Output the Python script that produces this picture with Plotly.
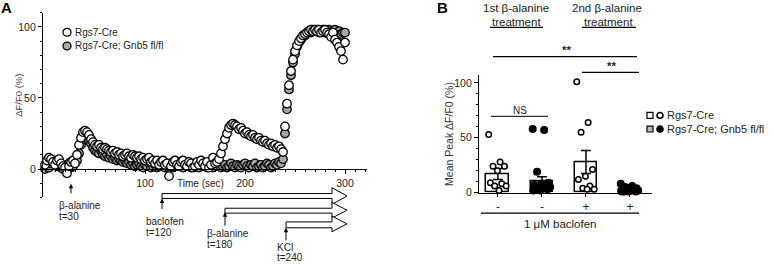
import plotly.graph_objects as go

# ---------------- data ----------------
time_sec = list(range(0, 302, 2))
rgs7_cre = [3, 6, 8, 7, 5, 3, 6, 7, 4, 2,
            1, -3, 2, 5, 6, 4, 10, 17, 22, 26,
            27, 26, 24, 21, 19, 17, 16, 17, 15, 14,
            15, 14, 13, 12, 13, 11, 12, 10, 11, 9,
            10, 11, 9, 8, 10, 9, 8, 9, 7, 8,
            6, 7, 8, 5, 6, 4, 6, 3, 5, 6,
            3, 4, -5, 2, 5, 6, 3, 2, 5, 6,
            3, 2, 5, 4, 1, 2, 5, 3, 6, 4,
            2, 5, 1, 3, 8, 4, 5, 7, 11, 16,
            21, 25, 29, 31, 32, 31, 30, 28, 29, 27,
            25, 26, 24, 23, 24, 22, 21, 22, 20, 19,
            20, 18, 17, 18, 16, 17, 15, 16, 14, 12,
            30, 46, 59, 69, 77, 83, 87, 90, 92, 94,
            95, 96, 97, 98, 97, 98, 97, 98, 96, 97,
            98, 96, 95, 93, 96, 91, 89, 86, 83, 77,
            89]
gnb5_ko = [0, 3, 1, 4, 6, 5, 2, 3, 1, 0,
           2, 3, 4, 1, 2, 4, 6, 11, 17, 21,
           23, 22, 20, 18, 15, 13, 12, 11, 13, 10,
           9, 10, 8, 9, 7, 8, 6, 7, 6, 5,
           6, 4, 5, 3, 4, 2, 3, 4, 2, 1,
           3, 2, 4, 1, 2, 3, 1, 2, 4, 2,
           1, 3, 2, 4, 1, 2, 3, 5, 2, 1,
           3, 4, 2, 1, 3, 4, 2, 1, 3, 2,
           4, 1, 3, 2, 1, 3, 2, 4, 1, 2,
           3, 1, 2, 4, 2, 1, 3, 2, 1, 3,
           4, 2, 1, 3, 2, 4, 1, 2, 3, 1,
           2, 4, 3, 1, 2, 4, 3, 5, 4, 7,
           25, 42, 56, 66, 75, 81, 86, 89, 91, 93,
           94, 96, 97, 96, 98, 97, 98, 96, 97, 98,
           96, 97, 98, 96, 97, 98, 96, 97, 95, 96,
           96]

bar_labels = ["-", "-", "+", "+"]
bar_means = [17, 10, 28, 3]
bar_sems = [5, 4.5, 10.5, 0.7]
pts_ctrl_1st = [53, 28, 24, 24, 20, 9, 8, 6, 6, 2]
pts_ko_1st = [58, 57, 19, 9, 8, 7, 6, 5, 5, 4, 3, 3, 2, 2]
pts_ctrl_2nd = [101, 64, 55, 21, 15, 12, 6, 4, 3, 3]
pts_ko_2nd = [8, 6, 5, 4, 4, 3, 3, 2, 2, 2, 1, 1, 1, 1]

# ---------------- helpers ----------------
W, H = 772, 268
FONT = "Liberation Sans, Arial, sans-serif"


def px(x):
    return x / W


def py(y):
    return 1 - y / H


def jitter(n, spread=0.42):
    return [(((i * 0.6180339) % 1.0) - 0.5) * spread for i in range(n)]


fig = go.Figure()

# ---------------- panel A ----------------
fig.add_trace(go.Scatter(x=time_sec, y=gnb5_ko, mode="markers",
                         marker=dict(size=8.5, color="#a8a8a8", line=dict(color="black", width=1.3)),
                         xaxis="x", yaxis="y", showlegend=False, cliponaxis=False))
fig.add_trace(go.Scatter(x=time_sec, y=rgs7_cre, mode="markers",
                         marker=dict(size=8.5, color="white", line=dict(color="black", width=1.3)),
                         xaxis="x", yaxis="y", showlegend=False, cliponaxis=False))

# ---------------- panel B ----------------
fig.add_trace(go.Bar(x=[0, 1, 2, 3], y=bar_means, width=0.52,
                     marker=dict(color=["white", "#bdbdbd", "white", "#bdbdbd"],
                                 line=dict(color="black", width=1.5)),
                     error_y=dict(type="data", array=bar_sems, color="black", thickness=1.5, width=5),
                     xaxis="x2", yaxis="y2", showlegend=False))
groups = [(0, pts_ctrl_1st, "white"), (1, pts_ko_1st, "black"),
          (2, pts_ctrl_2nd, "white"), (3, pts_ko_2nd, "black")]
for xc, vals, col in groups:
    offs = jitter(len(vals))
    fig.add_trace(go.Scatter(x=[xc + o for o in offs], y=vals, mode="markers",
                             marker=dict(size=5.5 if col == "white" else 6.5, color=col,
                                         line=dict(color="black", width=1.5)),
                             xaxis="x2", yaxis="y2", showlegend=False, cliponaxis=False))

axis_common = dict(showline=True, linecolor="black", linewidth=1.3, ticks="outside",
                   tickcolor="black", tickwidth=1.2, showgrid=False, zeroline=False,
                   tickfont=dict(family=FONT, size=10.5, color="#222"))

fig.update_layout(
    width=W, height=H, margin=dict(l=0, r=0, t=0, b=0),
    paper_bgcolor="white", plot_bgcolor="white",
    xaxis=dict(domain=[px(43), px(367)], range=[-2, 322], anchor="free", position=py(173),
               tickvals=[100, 200, 300], ticklen=4,
               minor=dict(dtick=10, ticklen=2, tickcolor="black", ticks="outside"),
               **axis_common),
    yaxis=dict(domain=[py(202), py(13)], range=[-20, 110], anchor="x",
               tickvals=[0, 50, 100], ticklen=4,
               minor=dict(dtick=10, ticklen=2, tickcolor="black", ticks="outside"),
               **axis_common),
    xaxis2=dict(domain=[px(479), px(652)], range=[-0.43, 3.5], anchor="y2",
                tickvals=[0, 1, 2, 3], ticktext=bar_labels, ticklen=3,
                **axis_common),
    yaxis2=dict(domain=[py(197), py(77)], range=[0, 107], anchor="x2",
                tickvals=[0, 50, 100], ticklen=4,
                minor=dict(dtick=10, ticklen=2, tickcolor="black", ticks="outside"),
                **axis_common),
    bargap=0,
)
fig.layout.xaxis2.tickfont.size = 12

shapes = []
annos = []


def text(x, y, s, size=10, xanchor="center", color="#222", bold=False, angle=0):
    annos.append(dict(x=px(x), y=py(y), xref="paper", yref="paper", text=f"<b>{s}</b>" if bold else s,
                      showarrow=False, xanchor=xanchor, yanchor="middle", textangle=angle,
                      font=dict(family=FONT, size=size, color=color)))


def line(x0, y0, x1, y1, w=1.3):
    shapes.append(dict(type="line", xref="paper", yref="paper", x0=px(x0), y0=py(y0), x1=px(x1), y1=py(y1),
                       line=dict(color="black", width=w)))


def circle(cx, cy, r, fill, w=1.3):
    shapes.append(dict(type="circle", xref="paper", yref="paper", x0=px(cx - r), x1=px(cx + r),
                       y0=py(cy + r), y1=py(cy - r), fillcolor=fill, line=dict(color="black", width=w)))


def rect(x0, y0, x1, y1, fill, w=1.2):
    shapes.append(dict(type="rect", xref="paper", yref="paper", x0=px(x0), x1=px(x1),
                       y0=py(y1), y1=py(y0), fillcolor=fill, line=dict(color="black", width=w)))


def block_arrow(x0, yt, yb, hx, ht, hb, tip):
    ym = (ht + hb) / 2
    pts = [(x0, yt), (hx, yt), (hx, ht), (tip, ym), (hx, hb), (hx, yb), (x0, yb)]
    path = "M " + " L ".join(f"{px(a):.5f},{py(b):.5f}" for a, b in pts) + " Z"
    shapes.append(dict(type="path", xref="paper", yref="paper", path=path, fillcolor="white",
                       line=dict(color="black", width=1)))


def up_arrow(x, y_tail, y_tip):
    annos.append(dict(x=px(x), y=py(y_tip), xref="paper", yref="paper", ax=0, ay=y_tail - y_tip,
                      axref="pixel", ayref="pixel", text="", showarrow=True, arrowhead=2,
                      arrowsize=0.9, arrowwidth=1, arrowcolor="black"))


# panel labels
text(6, 8, "A", size=15, bold=True, color="black")
text(442, 8, "B", size=15, bold=True, color="black")

# panel A texts
text(19, 98, "ΔF/F0 (%)", size=9.5, angle=-90, color="#444")
text(175, 188, "Time (sec)", size=10, xanchor="left")
circle(67, 33, 4, "white")
circle(67, 47, 4, "#a8a8a8")
text(73, 33, "Rgs7-Cre", size=10, xanchor="left")
text(73, 47, "Rgs7-Cre; Gnb5 fl/fl", size=10, xanchor="left")

block_arrow(162, 198, 203, 332, 192, 209, 347)
block_arrow(225, 213, 218, 332, 207, 223, 347)
block_arrow(286, 227, 233, 332, 221, 237, 347)

up_arrow(71, 199, 188)
up_arrow(162, 215, 203)
up_arrow(225, 232, 217)
up_arrow(286, 247, 233)

text(57, 210, "β-alanine", size=10, xanchor="left")
text(57, 221, "t=30", size=10, xanchor="left")
text(144, 227, "baclofen", size=10, xanchor="left")
text(144, 238, "t=120", size=10, xanchor="left")
text(205, 239, "β-alanine", size=10, xanchor="left")
text(205, 250, "t=180", size=10, xanchor="left")
text(275, 253, "KCl", size=10, xanchor="left")
text(275, 263, "t=240", size=10, xanchor="left")

# panel B texts
text(449, 137, "Mean Peak ΔF/F0 (%)", size=10.5, angle=-90, color="#333")
text(516, 8, "1st β-alanine", size=11.5)
text(516, 22, "treatment", size=11.5)
line(490, 28, 543, 28)
text(607, 8, "2nd β-alanine", size=11.5)
text(608, 22, "treatment", size=11.5)
line(582, 28, 636, 28)

line(493, 58, 637, 58)
text(566, 51, "**", size=11.5, bold=True)
line(582, 74, 639, 74)
text(611, 68, "**", size=11.5, bold=True)
line(491, 119, 548, 119, w=1)
text(520, 113, "NS", size=10)

line(481, 218, 639, 218)
text(560, 229, "1 μM baclofen", size=11.5)

rect(647, 115, 653, 121, "white")
circle(660, 118, 3, "white", w=1.6)
text(665, 118, "Rgs7-Cre", size=11, xanchor="left")
rect(647, 129, 653, 135, "#bdbdbd")
circle(660, 132, 3, "black", w=1.6)
text(665, 132, "Rgs7-Cre; Gnb5 fl/fl", size=11, xanchor="left")

fig.update_layout(shapes=shapes, annotations=annos)
fig.write_html("out.html", config={"displayModeBar": False},
               post_script="document.body.style.margin='0px';document.body.style.overflow='hidden';")
